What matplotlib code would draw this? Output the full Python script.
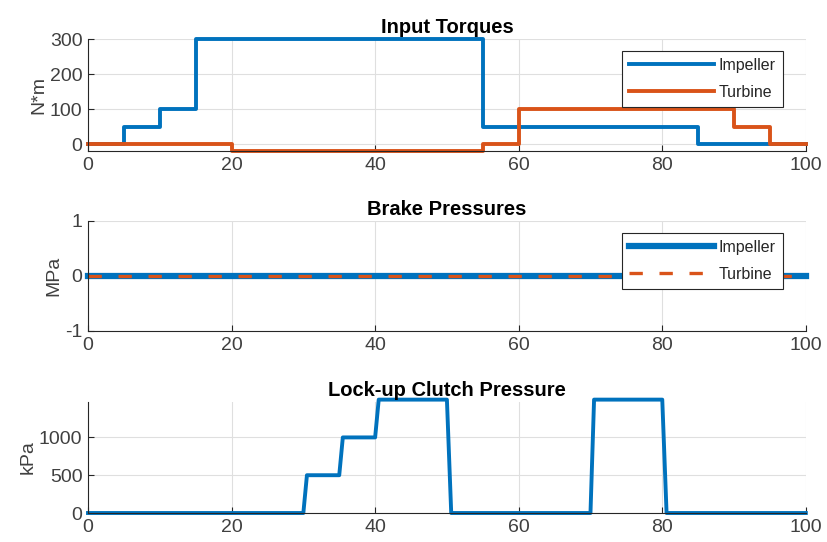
import matplotlib
matplotlib.use('Agg')
import matplotlib.pyplot as plt

plt.rcParams['font.family'] = ['Liberation Sans', 'DejaVu Sans']
plt.rcParams['axes.unicode_minus'] = False

blue = '#0072BD'
orange = '#D95319'
axis_col = '#262626'

# input torques (step changes, value holds until next time)
torque_t_imp = [0, 5, 10, 15, 55, 85, 100]
torque_imp = [0, 50, 100, 300, 50, 0, 0]
torque_t_tur = [0, 20, 55, 60, 90, 95, 100]
torque_tur = [0, -20, 0, 100, 50, 0, 0]

# brake pressures
brake_t = [0, 100]
brake_imp = [0, 0]
brake_tur = [0, 0]

# lock-up clutch pressure
lock_t = [0, 30, 30.5, 35, 35.5, 40, 40.5, 50, 50.6, 70, 70.5, 80, 80.6, 100]
lock_p = [0, 0, 500, 500, 1000, 1000, 1500, 1500, 0, 0, 1500, 1500, 0, 0]

xticks = [0, 20, 40, 60, 80, 100]


def style(ax, title, ylabel):
    ax.set_xlim(0, 100)
    ax.set_xticks(xticks)
    ax.grid(True, color='#dfdfdf', linewidth=0.8)
    ax.set_axisbelow(True)
    for s in ['top', 'right']:
        ax.spines[s].set_visible(False)
    for s in ['left', 'bottom']:
        ax.spines[s].set_color(axis_col)
        ax.spines[s].set_linewidth(0.8)
    ax.tick_params(direction='in', length=4, width=0.8, colors=axis_col,
                   labelsize=14, labelcolor='#404040', pad=4)
    ax.set_title(title, fontsize=14.5, fontweight='bold', color='black', pad=4)
    ax.set_ylabel(ylabel, fontsize=14, color='#404040', labelpad=2)
    for line in ax.get_lines():
        line.set_clip_on(False)


def legend(ax):
    lg = ax.legend(loc='upper right', bbox_to_anchor=(0.968, 0.895), fontsize=11.5,
                   frameon=True, framealpha=1, fancybox=False, edgecolor=axis_col,
                   handlelength=5.3, handletextpad=0.3, borderpad=0.45,
                   labelspacing=0.75, borderaxespad=0)
    lg.get_frame().set_linewidth(0.8)
    lg.set_zorder(5)
    for t in lg.get_texts():
        t.set_color('#262626')


fig = plt.figure(figsize=(8.27, 5.42), dpi=100, facecolor='white')

ax1 = fig.add_axes([0.1064, 0.7214, 0.868, 0.2066])
ax1.plot(torque_t_imp, torque_imp, drawstyle='steps-post', color=blue, lw=2.8, label='Impeller')
ax1.plot(torque_t_tur, torque_tur, drawstyle='steps-post', color=orange, lw=2.8, label='Turbine')
ax1.set_ylim(-20, 300)
ax1.set_yticks([0, 100, 200, 300])
style(ax1, 'Input Torques', 'N*m')
legend(ax1)

ax2 = fig.add_axes([0.1064, 0.3893, 0.868, 0.203])
ax2.plot(brake_t, brake_imp, color=blue, lw=4.5, label='Impeller')
ax2.plot(brake_t, brake_tur, color=orange, lw=2.4, linestyle=(0, (4, 5)), label='Turbine')
ax2.set_ylim(-1, 1)
ax2.set_yticks([-1, 0, 1])
style(ax2, 'Brake Pressures', 'MPa')
legend(ax2)

ax3 = fig.add_axes([0.1064, 0.0535, 0.868, 0.205])
ax3.plot(lock_t, lock_p, color=blue, lw=2.8)
ax3.set_ylim(0, 1470)
ax3.set_yticks([0, 500, 1000])
style(ax3, 'Lock-up Clutch Pressure', 'kPa')

fig.savefig('out.png', dpi=100)
